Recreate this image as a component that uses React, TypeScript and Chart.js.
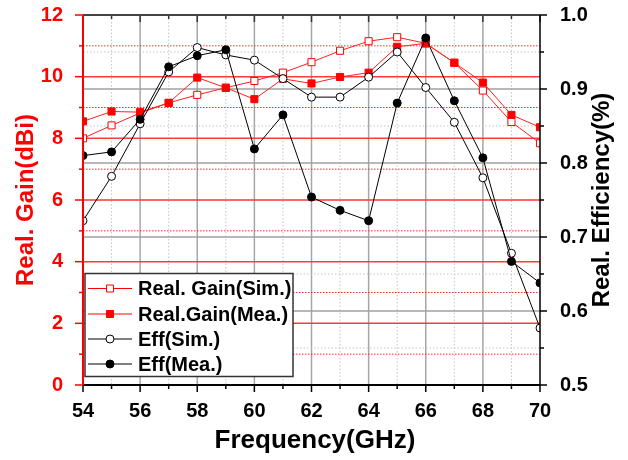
import React, { useEffect, useRef } from 'react';
import { Chart, registerables } from 'chart.js';

Chart.register(...registerables);

const frequencies = [54, 55, 56, 57, 58, 59, 60, 61, 62, 63, 64, 65, 66, 67, 68, 69, 70];
const gainSim = [8.0, 8.42, 8.82, 9.15, 9.41, 9.64, 9.86, 10.13, 10.47, 10.84, 11.15, 11.28, 11.08, 10.45, 9.55, 8.53, 7.84];
const gainMea = [8.55, 8.87, 8.85, 9.15, 9.97, 9.64, 9.27, 9.93, 9.78, 9.99, 10.13, 10.97, 11.08, 10.45, 9.81, 8.76, 8.36];
const effSim = [0.722, 0.782, 0.853, 0.923, 0.956, 0.946, 0.939, 0.914, 0.889, 0.889, 0.916, 0.95, 0.902, 0.855, 0.78, 0.678, 0.577];
const effMea = [0.81, 0.815, 0.859, 0.93, 0.945, 0.953, 0.819, 0.865, 0.754, 0.736, 0.722, 0.881, 0.969, 0.884, 0.807, 0.667, 0.638];

const legendLabels = ['Real. Gain(Sim.)', 'Real.Gain(Mea.)', 'Eff(Sim.)', 'Eff(Mea.)'];
const xTitle = 'Frequency(GHz)';
const yTitle = 'Real. Gain(dBi)';
const y1Title = 'Real. Efficiency(%)';

const FONT = "'Liberation Sans', Arial, Helvetica, sans-serif";
const RED = '#ff0000';

const decorPlugin = {
  id: 'decor',
  beforeDatasetsDraw(chart: any) {
    const { ctx, chartArea } = chart;
    const { left, right, top, bottom } = chartArea;
    const x = chart.scales.x;
    const y = chart.scales.y;
    const y1 = chart.scales.y1;
    ctx.save();
    for (let f = x.min + 1; f < x.max; f++) {
      const px = x.getPixelForValue(f);
      ctx.beginPath();
      if (f % 2 === 0) {
        ctx.setLineDash([]);
        ctx.strokeStyle = '#a6a6a6';
        ctx.lineWidth = 1.5;
      } else {
        ctx.setLineDash([1.5, 2]);
        ctx.strokeStyle = '#c4c4c4';
        ctx.lineWidth = 1;
      }
      ctx.moveTo(px, top);
      ctx.lineTo(px, bottom);
      ctx.stroke();
    }
    for (let k = 11; k < 20; k++) {
      const v = k / 20;
      const py = y1.getPixelForValue(v);
      ctx.beginPath();
      if (k % 2 === 0) {
        ctx.setLineDash([]);
        ctx.strokeStyle = '#a0a0a0';
        ctx.lineWidth = 1.5;
      } else {
        ctx.setLineDash([1.5, 2]);
        ctx.strokeStyle = '#c4c4c4';
        ctx.lineWidth = 1;
      }
      ctx.moveTo(left, py);
      ctx.lineTo(right, py);
      ctx.stroke();
    }
    for (let v = 1; v < 12; v++) {
      const py = y.getPixelForValue(v);
      ctx.beginPath();
      if (v % 2 === 0) {
        ctx.setLineDash([]);
        ctx.strokeStyle = '#ff3a3a';
        ctx.lineWidth = 1.5;
      } else {
        ctx.setLineDash([1.5, 1.5]);
        ctx.strokeStyle = '#ff2a2a';
        ctx.lineWidth = 1;
      }
      ctx.moveTo(left, py);
      ctx.lineTo(right, py);
      ctx.stroke();
    }
    ctx.restore();
  },
  afterDatasetsDraw(chart: any) {
    const { ctx, chartArea } = chart;
    const { left, right, top, bottom } = chartArea;
    const x = chart.scales.x;
    const y = chart.scales.y;
    const y1 = chart.scales.y1;
    ctx.save();
    ctx.setLineDash([]);
    for (let f = x.min; f <= x.max; f++) {
      const px = x.getPixelForValue(f);
      const len = f % 2 === 0 ? 7 : 4;
      ctx.strokeStyle = '#000';
      ctx.lineWidth = 1.5;
      ctx.beginPath();
      ctx.moveTo(px, bottom);
      ctx.lineTo(px, bottom + len);
      ctx.stroke();
      ctx.strokeStyle = '#333';
      ctx.beginPath();
      ctx.moveTo(px, top);
      ctx.lineTo(px, top + len);
      ctx.stroke();
    }
    for (let v = 0; v <= 12; v++) {
      const py = y.getPixelForValue(v);
      const len = v % 2 === 0 ? 8 : 4;
      ctx.strokeStyle = RED;
      ctx.lineWidth = 1.5;
      ctx.beginPath();
      ctx.moveTo(left, py);
      ctx.lineTo(left - len, py);
      ctx.stroke();
    }
    for (let k = 10; k <= 20; k++) {
      const py = y1.getPixelForValue(k / 20);
      const len = k % 2 === 0 ? 7 : 4;
      ctx.strokeStyle = '#000';
      ctx.lineWidth = 1.5;
      ctx.beginPath();
      ctx.moveTo(right, py);
      ctx.lineTo(right + len, py);
      ctx.stroke();
    }
    ctx.lineWidth = 2;
    ctx.strokeStyle = '#444';
    ctx.beginPath();
    ctx.moveTo(left, top);
    ctx.lineTo(right, top);
    ctx.stroke();
    ctx.strokeStyle = '#000';
    ctx.beginPath();
    ctx.moveTo(left, bottom);
    ctx.lineTo(right, bottom);
    ctx.stroke();
    ctx.lineWidth = 1.5;
    ctx.beginPath();
    ctx.moveTo(right, top);
    ctx.lineTo(right, bottom);
    ctx.stroke();
    ctx.lineWidth = 2;
    ctx.strokeStyle = RED;
    ctx.beginPath();
    ctx.moveTo(left, top);
    ctx.lineTo(left, bottom);
    ctx.stroke();

    // legend
    const lx = left + 2;
    const ly = 273.5;
    const lw = 208;
    const lh = 103;
    ctx.fillStyle = '#fff';
    ctx.fillRect(lx, ly, lw, lh);
    ctx.strokeStyle = '#333';
    ctx.lineWidth = 1.5;
    ctx.strokeRect(lx, ly, lw, lh);
    const rows = [288.5, 314, 339, 364];
    const styles = [
      { color: RED, fill: '#fff', shape: 'rect' },
      { color: RED, fill: RED, shape: 'rect' },
      { color: '#000', fill: '#fff', shape: 'circle' },
      { color: '#000', fill: '#000', shape: 'circle' },
    ];
    ctx.font = `bold 20px ${FONT}`;
    ctx.textBaseline = 'middle';
    ctx.textAlign = 'left';
    rows.forEach((ry, i) => {
      const st = styles[i];
      ctx.strokeStyle = st.color;
      ctx.lineWidth = 1;
      ctx.beginPath();
      ctx.moveTo(lx + 3, ry);
      ctx.lineTo(lx + 47, ry);
      ctx.stroke();
      const cx = lx + 25;
      ctx.fillStyle = st.fill;
      ctx.beginPath();
      if (st.shape === 'rect') {
        ctx.rect(cx - 3.5, ry - 3.5, 7, 7);
      } else {
        ctx.arc(cx, ry, 4, 0, Math.PI * 2);
      }
      ctx.fill();
      ctx.stroke();
      ctx.fillStyle = '#000';
      ctx.fillText(legendLabels[i], lx + 53, ry + 1);
    });

    // titles
    ctx.fillStyle = RED;
    ctx.font = `bold 24px ${FONT}`;
    ctx.textAlign = 'center';
    ctx.textBaseline = 'middle';
    ctx.save();
    ctx.translate(26, (top + bottom) / 2);
    ctx.rotate(-Math.PI / 2);
    ctx.fillText(yTitle, 0, 0);
    ctx.restore();
    ctx.fillStyle = '#000';
    ctx.save();
    ctx.translate(602, (top + bottom) / 2);
    ctx.rotate(-Math.PI / 2);
    ctx.fillText(y1Title, 0, 0);
    ctx.restore();
    ctx.font = `bold 26px ${FONT}`;
    ctx.textBaseline = 'alphabetic';
    ctx.fillText(xTitle, 315, 448);
    ctx.restore();
  },
};

export default function App() {
  const canvasRef = useRef<HTMLCanvasElement | null>(null);

  useEffect(() => {
    if (!canvasRef.current) return;
    const mk = (vals: number[]) => frequencies.map((f, i) => ({ x: f, y: vals[i] }));
    const tickFont = { family: FONT, size: 20, weight: 'bold' as const };
    const fitV = (w: number) => (s: any) => {
      s.width = w;
      s.paddingTop = 0;
      s.paddingBottom = 0;
    };
    const chart = new Chart(canvasRef.current, {
      type: 'line',
      data: {
        datasets: [
          {
            label: legendLabels[3],
            data: mk(effMea),
            yAxisID: 'y1',
            borderColor: '#000',
            borderWidth: 1,
            pointStyle: 'circle',
            pointRadius: 4,
            pointBackgroundColor: '#000',
            pointBorderColor: '#000',
            pointBorderWidth: 1,
            clip: 0,
            order: 0,
          },
          {
            label: legendLabels[2],
            data: mk(effSim),
            yAxisID: 'y1',
            borderColor: '#000',
            borderWidth: 1,
            pointStyle: 'circle',
            pointRadius: 4,
            pointBackgroundColor: '#fff',
            pointBorderColor: '#000',
            pointBorderWidth: 1,
            clip: 0,
            order: 1,
          },
          {
            label: legendLabels[1],
            data: mk(gainMea),
            yAxisID: 'y',
            borderColor: '#ff2020',
            borderWidth: 1,
            pointStyle: 'rect',
            pointRadius: 5,
            pointBackgroundColor: RED,
            pointBorderColor: RED,
            pointBorderWidth: 1,
            clip: 0,
            order: 2,
          },
          {
            label: legendLabels[0],
            data: mk(gainSim),
            yAxisID: 'y',
            borderColor: '#ff2020',
            borderWidth: 1,
            pointStyle: 'rect',
            pointRadius: 5,
            pointBackgroundColor: '#fff',
            pointBorderColor: RED,
            pointBorderWidth: 1,
            clip: 0,
            order: 3,
          },
        ],
      },
      options: {
        responsive: false,
        animation: false,
        events: [],
        layout: { padding: { top: 15, left: 0, right: 0, bottom: 0 } },
        plugins: { legend: { display: false }, tooltip: { enabled: false } },
        elements: { line: { tension: 0 } },
        scales: {
          x: {
            type: 'linear',
            position: 'bottom',
            min: 54,
            max: 70,
            grid: { display: false },
            border: { display: false },
            ticks: { stepSize: 2, color: '#000', font: tickFont, padding: 6, autoSkip: false, maxRotation: 0 },
            afterFit: (s: any) => {
              s.height = 75;
              s.paddingLeft = 0;
              s.paddingRight = 0;
            },
          },
          y: {
            type: 'linear',
            position: 'left',
            min: 0,
            max: 12,
            grid: { display: false },
            border: { display: false },
            ticks: { stepSize: 2, color: RED, font: tickFont, padding: 12 },
            afterFit: fitV(83),
          },
          y1: {
            type: 'linear',
            position: 'right',
            min: 0.5,
            max: 1.0,
            grid: { display: false },
            border: { display: false },
            ticks: {
              stepSize: 0.1,
              color: '#000',
              font: tickFont,
              padding: 12,
              callback: (v: any) => Number(v).toFixed(1),
            },
            afterFit: fitV(88),
          },
        },
      },
      plugins: [decorPlugin],
    } as any);
    return () => chart.destroy();
  }, []);

  return (
    <canvas
      ref={canvasRef}
      width={628}
      height={460}
      style={{ position: 'fixed', left: 0, top: 0, width: 628, height: 460, background: '#fff' }}
    />
  );
}
